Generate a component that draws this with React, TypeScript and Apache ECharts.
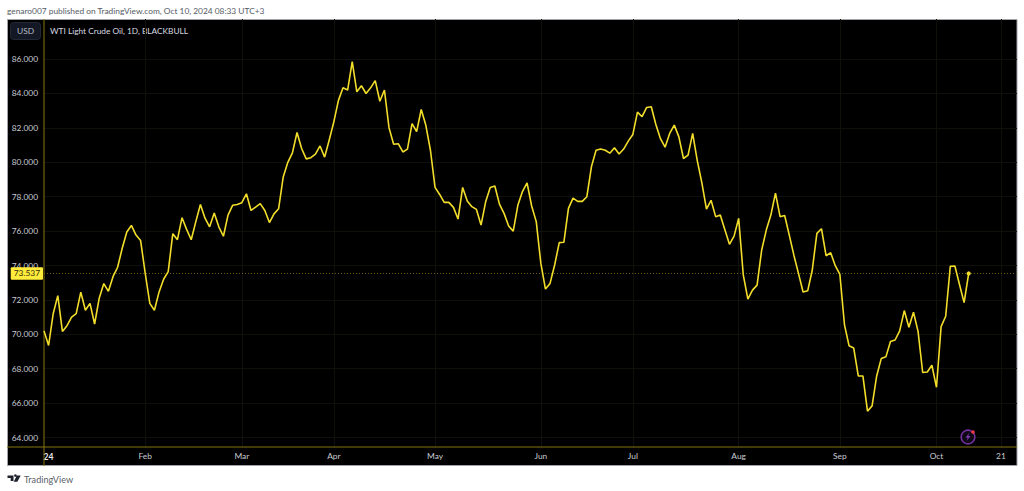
import React, { useEffect, useRef } from "react";
import * as echarts from "echarts";

const prices: number[] = [
  70.2, 69.35, 71.2, 72.25, 70.17, 70.5, 71.0, 71.2, 72.45, 71.4,
  71.8, 70.6, 72.1, 72.95, 72.5, 73.35, 73.9, 75.0, 75.95, 76.33,
  75.77, 75.45, 73.55, 71.8, 71.4, 72.45, 73.2, 73.65, 75.85, 75.5,
  76.78, 76.1, 75.5, 76.55, 77.55, 76.75, 76.25, 77.05, 76.25, 75.7,
  76.93, 77.5, 77.55, 77.65, 78.17, 77.2, 77.4, 77.6, 77.2, 76.5,
  77.0, 77.3, 79.15, 80.0, 80.55, 81.73, 80.8, 80.2, 80.27, 80.47,
  80.95, 80.3, 81.3, 82.35, 83.6, 84.33, 84.2, 85.85, 84.1, 84.45,
  84.0, 84.33, 84.75, 83.55, 84.2, 82.0, 81.05, 81.08, 80.6, 80.77,
  82.25, 81.78, 83.07, 82.15, 80.7, 78.54, 78.13, 77.67, 77.67, 77.38,
  76.7, 78.54, 77.75, 77.42, 77.26, 76.35, 77.7, 78.54, 78.62, 77.57,
  77.03, 76.3, 76.0, 77.5, 78.3, 78.8, 77.46, 76.55, 74.12, 72.63,
  72.96, 74.03, 75.33, 75.35, 77.32, 77.92, 77.73, 77.73, 78.0, 79.75,
  80.7, 80.77, 80.7, 80.53, 80.85, 80.48, 80.77, 81.23, 81.62, 82.92,
  82.65, 83.19, 83.23, 82.2, 81.37, 80.88, 81.68, 82.16, 81.48, 80.22,
  80.42, 81.68, 80.1, 78.8, 77.28, 77.79, 76.84, 76.93, 76.08, 75.23,
  75.71, 76.74, 73.45, 72.05, 72.57, 72.86, 74.9, 76.06, 76.93, 78.21,
  76.84, 76.91, 75.77, 74.6, 73.54, 72.46, 72.53, 73.74, 75.87, 76.14,
  74.57, 74.74, 73.99, 73.48, 70.55, 69.33, 69.21, 67.58, 67.58, 65.53,
  65.84, 67.58, 68.6, 68.69, 69.58, 69.67, 70.2, 71.38, 70.41, 71.28,
  70.16, 67.78, 67.81, 68.2, 66.92, 70.45, 71.05, 73.95, 73.97, 72.9,
  71.84, 73.537,
];
const lastPrice = 73.537;
const priceTicks = [64, 66, 68, 70, 72, 74, 76, 78, 80, 82, 84, 86];
const monthTicks = [22, 43, 63, 85, 108, 128, 151, 173, 194, 208];
const monthLabels = ["Feb", "Mar", "Apr", "May", "Jun", "Jul", "Aug", "Sep", "Oct", "21"];
const yearLabelTick = 1;
const yearLabel = "24";

const FONT = "Lato, 'Open Sans', sans-serif";
const AXIS_GOLD = "#85760f";
const LINE = "#f2de2a";
const GRID = "#10100a";

echarts.graphic.registerShape(
  "tvLogo",
  echarts.graphic.extendPath(
    "M0 0H6V5.5H3.2V0ZM0 0H6V2.6H0ZM6.2 6.2L9.4 0H13.2L9.8 6.2ZM7.9 1.3A1.3 1.3 0 1 1 7.91 1.3Z",
    {}
  ) as any
);

export default function App() {
  const ref = useRef<HTMLDivElement>(null);
  useEffect(() => {
    const chart = echarts.init(ref.current!, null, { renderer: "svg" });
    const last = prices.length - 1;
    chart.setOption({
      animation: false,
      backgroundColor: "#ffffff",
      grid: { left: 44, top: 19, width: 973, height: 428 },
      xAxis: {
        type: "value",
        min: 0,
        max: 211.5,
        axisLine: { show: false },
        axisTick: { show: false, customValues: monthTicks },
        splitLine: { show: true, lineStyle: { color: GRID, width: 1 } },
        axisLabel: {
          customValues: [yearLabelTick, ...monthTicks],
          color: "#c8cbd3",
          fontFamily: FONT,
          fontSize: 8.4,
          margin: 5,
          formatter: (v: number) =>
            v === yearLabelTick ? `{b|${yearLabel}}` : monthLabels[monthTicks.indexOf(v)] ?? "",
          rich: {
            b: { fontWeight: "bold", color: "#e6e8ee", fontFamily: FONT, fontSize: 8.6 },
          },
        },
      },
      yAxis: {
        type: "value",
        min: 63.45,
        max: 88.33,
        axisLine: { show: false },
        axisTick: { show: false, customValues: priceTicks },
        splitLine: { show: true, lineStyle: { color: GRID, width: 1 } },
        axisLabel: {
          customValues: priceTicks,
          color: "#c8cbd3",
          fontFamily: FONT,
          fontSize: 8.4,
          margin: 6,
          formatter: (v: number) => v.toFixed(3),
        },
      },
      graphic: [
        {
          type: "text",
          x: 7,
          y: 11,
          style: {
            text: "genaro007 published on TradingView.com, Oct 10, 2024 08:33 UTC+3",
            fill: "#555b66",
            font: `8.35px ${FONT}`,
            textVerticalAlign: "middle",
          },
        },
        {
          type: "rect",
          z: -10,
          zlevel: 0,
          shape: { x: 7.5, y: 19.5, width: 1009.5, height: 446 },
          style: { fill: "#000000", stroke: "#a0a3a8", lineWidth: 1 },
        },
        {
          type: "line",
          z: 1,
          shape: { x1: 44, y1: 19, x2: 44, y2: 466 },
          style: { stroke: AXIS_GOLD, lineWidth: 1 },
        },
        {
          type: "line",
          z: 1,
          shape: { x1: 7, y1: 447, x2: 1017, y2: 447 },
          style: { stroke: AXIS_GOLD, lineWidth: 1 },
        },
        {
          type: "rect",
          shape: { x: 10.5, y: 22.5, width: 30, height: 17, r: 3 },
          style: { fill: "#131824", stroke: "#232836", lineWidth: 1 },
        },
        {
          type: "text",
          x: 25.5,
          y: 31,
          style: {
            text: "USD",
            fill: "#b8bbc4",
            font: `8.4px ${FONT}`,
            textAlign: "center",
            textVerticalAlign: "middle",
          },
        },
        {
          type: "text",
          x: 50,
          y: 30.5,
          style: {
            text: "WTI Light Crude Oil, 1D, BLACKBULL",
            fill: "#d8dae0",
            font: `8.3px ${FONT}`,
            textVerticalAlign: "middle",
          },
        },
        {
          type: "circle",
          z: 20,
          shape: { cx: 968, cy: 437, r: 6.8 },
          style: { fill: "#0e0816", stroke: "#72309c", lineWidth: 1.6 },
        },
        {
          type: "polygon",
          z: 21,
          shape: {
            points: [
              [969.5, 432.5],
              [965.5, 437.8],
              [967.8, 437.8],
              [966.5, 441.3],
              [970.5, 436],
              [968.2, 436],
            ],
          },
          style: { fill: "#7e38b0" },
        },
        {
          type: "circle",
          z: 22,
          shape: { cx: 973, cy: 432, r: 1.8 },
          style: { fill: "#f23645" },
        },
        {
          type: "tvLogo",
          x: 7.5,
          y: 475.5,
          scaleX: 1,
          scaleY: 1,
          style: { fill: "#1e222d" },
        },
        {
          type: "text",
          x: 24,
          y: 479.5,
          style: {
            text: "TradingView",
            fill: "#5a5f6a",
            font: `9.1px ${FONT}`,
            textVerticalAlign: "middle",
          },
        },
      ],
      series: [
        {
          type: "line",
          data: prices.map((p, i) => [i, p]),
          lineStyle: { color: LINE, width: 1.6 },
          itemStyle: { color: LINE },
          symbol: (_v: any, p: any) => (p.dataIndex === last ? "circle" : "none"),
          symbolSize: 4.2,
          showSymbol: true,
          showAllSymbol: true,
          smooth: false,
          clip: true,
          z: 5,
          markLine: {
            silent: true,
            symbol: "none",
            data: [{ yAxis: lastPrice }],
            lineStyle: { color: "#6a5d10", type: [1, 2], width: 1 },
            label: {
              show: true,
              position: "start",
              distance: 1,
              formatter: lastPrice.toFixed(3),
              backgroundColor: "#ffeb3b",
              color: "#33300a",
              fontFamily: FONT,
              fontSize: 8.4,
              padding: [2.5, 3, 2, 3],
              borderRadius: 1,
            },
          },
        },
      ],
    });
    return () => chart.dispose();
  }, []);
  return (
    <div
      ref={ref}
      style={{ position: "fixed", left: 0, top: 0, width: 1024, height: 491 }}
    />
  );
}
